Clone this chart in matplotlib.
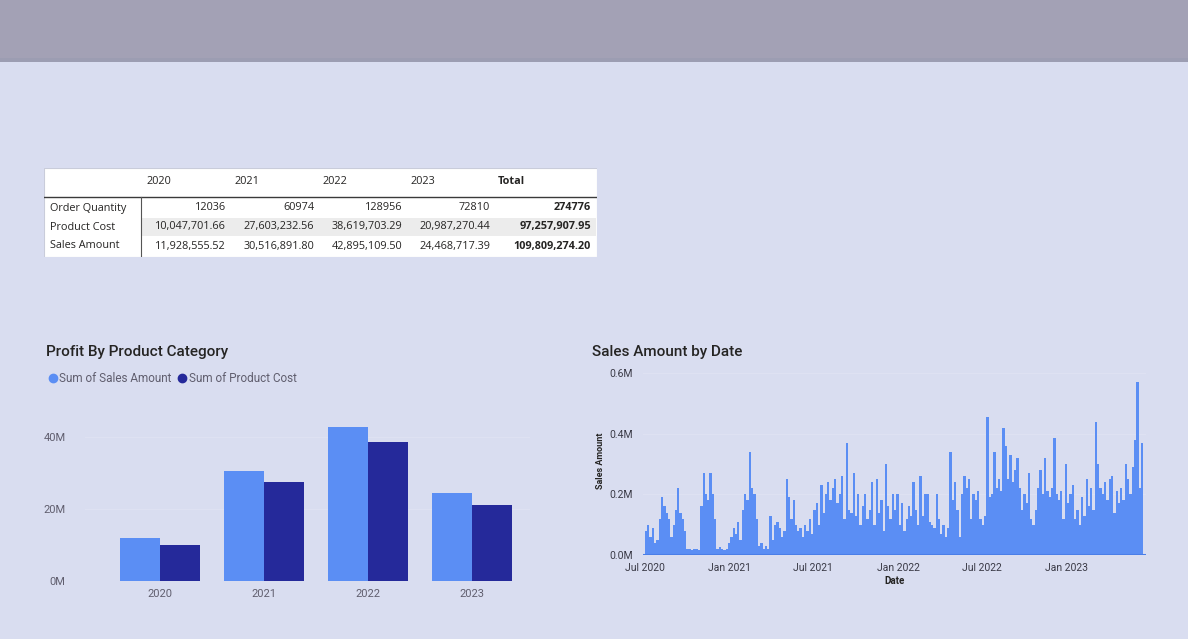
import numpy as np
import pandas as pd
import matplotlib
matplotlib.use('Agg')
import matplotlib.pyplot as plt
import matplotlib.dates as mdates
from matplotlib.patches import Rectangle
from matplotlib.lines import Line2D

W, H = 1188, 639

years = ['2020', '2021', '2022', '2023']
order_qty = [12036, 60974, 128956, 72810]
product_cost = [10047701.66, 27603232.56, 38619703.29, 20987270.44]
sales_amount = [11928555.52, 30516891.80, 42895109.50, 24468717.39]
total_qty = 274776
total_cost = 97257907.95
total_sales = 109809274.20

# sales amount per 5-day period starting Jul 2020, in millions
period_sales = [
    0.08, 0.10, 0.06, 0.09, 0.04, 0.05, 0.12, 0.19, 0.16, 0.14, 0.12, 0.06, 0.10, 0.15, 0.22, 0.14,
    0.12, 0.08, 0.02, 0.02, 0.015, 0.02, 0.02, 0.015,
    0.16, 0.27, 0.20, 0.18, 0.27, 0.20, 0.12, 0.02, 0.025, 0.02, 0.015, 0.02,
    0.04, 0.06, 0.09, 0.07, 0.11, 0.05, 0.15, 0.20, 0.18, 0.34, 0.22, 0.20, 0.12, 0.03, 0.04, 0.02,
    0.03, 0.02,
    0.13, 0.05, 0.10, 0.11, 0.09, 0.06, 0.08, 0.25, 0.19, 0.12, 0.18, 0.10, 0.08, 0.09, 0.06, 0.10,
    0.08, 0.12, 0.07,
    0.15, 0.17, 0.10, 0.23, 0.14, 0.20, 0.24, 0.18, 0.22, 0.25, 0.17, 0.20, 0.26, 0.12, 0.37, 0.15,
    0.14, 0.27,
    0.13, 0.20, 0.10, 0.16, 0.20, 0.12, 0.15, 0.24, 0.10, 0.25, 0.14, 0.18, 0.08, 0.30, 0.16, 0.12,
    0.20, 0.15,
    0.20, 0.10, 0.17, 0.08, 0.12, 0.16, 0.13, 0.24, 0.15, 0.10, 0.26, 0.13, 0.20, 0.20, 0.11, 0.10,
    0.09, 0.20, 0.12,
    0.07, 0.10, 0.06, 0.09, 0.34, 0.18, 0.24, 0.15, 0.06, 0.20, 0.26, 0.22, 0.25, 0.12, 0.20, 0.18,
    0.21, 0.12, 0.10, 0.13,
    0.455, 0.19, 0.20, 0.34, 0.22, 0.25, 0.21, 0.42, 0.36, 0.25, 0.33, 0.24, 0.28, 0.32, 0.22,
    0.15, 0.20, 0.17, 0.27, 0.12, 0.10, 0.15, 0.22, 0.28, 0.20, 0.32, 0.21, 0.19, 0.22, 0.385, 0.20,
    0.18, 0.21, 0.12, 0.30,
    0.17, 0.20, 0.23, 0.12, 0.15, 0.10, 0.19, 0.13, 0.25, 0.16, 0.22, 0.15, 0.44, 0.30, 0.22, 0.20,
    0.24, 0.18, 0.25, 0.26, 0.14, 0.21, 0.17, 0.22, 0.18, 0.30, 0.25, 0.20, 0.29, 0.38, 0.57, 0.22,
    0.37,
]
period_start = pd.date_range('2020-07-01', periods=len(period_sales), freq='5D')

BG = '#d9ddf0'
LIGHT = '#5b8ef4'
DARK = '#25299a'
GREY = '#605e6e'


def box(x0, y0, x1, y1):
    return [x0 / W, 1 - y1 / H, (x1 - x0) / W, (y1 - y0) / H]


fig = plt.figure(figsize=(W / 100, H / 100), dpi=100, facecolor=BG)

# header band
fig.patches.append(Rectangle((0, 1 - 58 / H), 1, 58 / H, transform=fig.transFigure,
                             facecolor='#a3a1b5', edgecolor='none'))
fig.patches.append(Rectangle((0, 1 - 62 / H), 1, 4 / H, transform=fig.transFigure,
                             facecolor='#9c9db2', edgecolor='none'))

# ---- matrix table ----
tab = fig.add_axes(box(44, 168, 597, 257))
tab.set_xlim(44, 597)
tab.set_ylim(257, 168)
tab.axis('off')
tab.add_patch(Rectangle((44, 168), 553, 89, facecolor='white', edgecolor='#c9ccda', lw=0.8))
tab.add_patch(Rectangle((142, 218), 454, 18, facecolor='#ececec', edgecolor='none'))
tab.plot([44, 597], [196.5, 196.5], color='#3a3a3a', lw=1.0)
tab.plot([141, 141], [197, 256], color='#555555', lw=0.8)

tf = dict(family='Open Sans', fontsize=7.8, color='#252423', va='center')
col_left = [146, 234, 322, 410]
col_right = [226, 314, 402, 490]
for x, yr in zip(col_left, years):
    tab.text(x, 181, yr, ha='left', **tf)
tab.text(498, 181, 'Total', ha='left', fontweight='bold', **tf)

rows = [('Order Quantity', order_qty, total_qty, '{:d}'),
        ('Product Cost', product_cost, total_cost, '{:,.2f}'),
        ('Sales Amount', sales_amount, total_sales, '{:,.2f}')]
for (label, vals, tot, fmt), y in zip(rows, [208, 227, 246]):
    tab.text(50, y, label, ha='left', **tf)
    for x, v in zip(col_right, vals):
        tab.text(x, y, fmt.format(v), ha='right', **tf)
    tab.text(591, y, fmt.format(tot), ha='right', fontweight='bold', **tf)

# ---- clustered column chart ----
fig.text(46 / W, 1 - 352 / H, 'Profit By Product Category', family='Roboto',
         fontsize=11, fontweight='medium', color='#252423', va='center', ha='left')
handles = [Line2D([], [], marker='o', ls='none', color=LIGHT, markersize=6),
           Line2D([], [], marker='o', ls='none', color=DARK, markersize=6)]
fig.legend(handles, ['Sum of Sales Amount', 'Sum of Product Cost'], loc='center left',
           bbox_to_anchor=(36 / W, 1 - 379 / H), ncol=2, frameon=False,
           handletextpad=0.05, columnspacing=0.4, handlelength=1.0,
           prop={'family': 'Roboto', 'size': 8.5}, labelcolor=GREY)

ax1 = fig.add_axes(box(85, 400, 530, 581))
ax1.set_facecolor(BG)
x = np.arange(len(years))
bw = 0.385
ax1.bar(x - bw / 2, np.array(sales_amount) / 1e6, bw, color=LIGHT, zorder=3)
ax1.bar(x + bw / 2, np.array(product_cost) / 1e6, bw, color=DARK, zorder=3)
ax1.set_xlim(-0.72, 3.56)
ax1.set_ylim(0, 50.3)
ax1.set_yticks([0, 20, 40])
ax1.set_yticklabels(['0M', '20M', '40M'])
ax1.set_xticks(x)
ax1.set_xticklabels(years)
ax1.grid(axis='y', color='#dfe2f3', lw=0.7, zorder=0)
for s in ax1.spines.values():
    s.set_visible(False)
ax1.tick_params(axis='y', length=0, pad=14, labelsize=8, labelcolor=GREY)
ax1.tick_params(axis='x', length=0, pad=6, labelsize=8, labelcolor=GREY)
for t in ax1.get_xticklabels() + ax1.get_yticklabels():
    t.set_family('Roboto')

# ---- sales amount by date ----
fig.text(592 / W, 1 - 352 / H, 'Sales Amount by Date', family='Roboto',
         fontsize=11, fontweight='medium', color='#252423', va='center', ha='left')
ax2 = fig.add_axes(box(643, 367, 1146, 555))
ax2.set_facecolor(BG)
ax2.bar(period_start, period_sales, width=5, align='edge', color=LIGHT, lw=0, zorder=3)
ax2.axhline(0, color='#4a7ee8', lw=2.2, zorder=4)
ax2.set_xlim(pd.Timestamp('2020-06-27'), pd.Timestamp('2023-06-22'))
ax2.set_ylim(0, 0.62)
ax2.set_yticks([0, 0.2, 0.4, 0.6])
ax2.set_yticklabels(['0.0M', '0.2M', '0.4M', '0.6M'])
ax2.xaxis.set_major_locator(mdates.MonthLocator(bymonth=[1, 7]))
ax2.xaxis.set_major_formatter(mdates.DateFormatter('%b %Y'))
ax2.grid(axis='y', color='#dfe2f3', lw=0.7, zorder=0)
for s in ax2.spines.values():
    s.set_visible(False)
ax2.tick_params(axis='both', length=0, labelsize=7.5, labelcolor='#3a3a46')
ax2.tick_params(axis='y', pad=7)
ax2.tick_params(axis='x', pad=6)
for t in ax2.get_xticklabels() + ax2.get_yticklabels():
    t.set_family('Roboto')
ax2.set_xlabel('Date', family='Roboto', fontsize=7, fontweight='bold', color='#252423', labelpad=2)
ax2.set_ylabel('Sales Amount', family='Roboto', fontsize=6.5, fontweight='bold',
               color='#252423', labelpad=3)

fig.savefig('out.png', dpi=100, facecolor=BG)
